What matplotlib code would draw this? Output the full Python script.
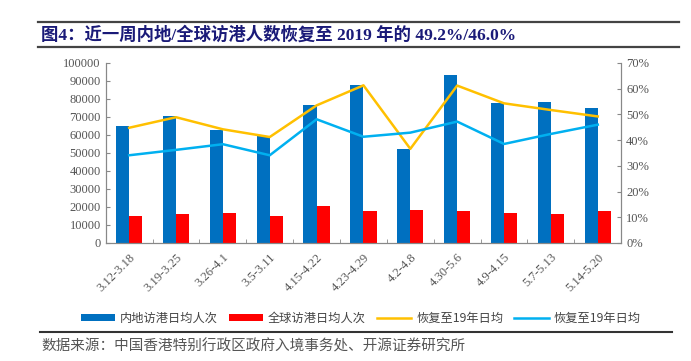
import matplotlib
import numpy as np
import matplotlib.pyplot as plt
from matplotlib.lines import Line2D
from matplotlib.ticker import FuncFormatter

plt.rcParams['font.family'] = ['Liberation Serif', 'Noto Sans CJK SC']

weeks = ['3.12-3.18', '3.19-3.25', '3.26-4.1', '3.5-3.11', '4.15-4.22', '4.23-4.29',
         '4.2-4.8', '4.30-5.6', '4.9-4.15', '5.7-5.13', '5.14-5.20']
mainland = [65000, 70400, 62800, 59300, 76400, 87500, 52400, 93300, 77500, 78400, 74900]
world = [15200, 16000, 16500, 15200, 20800, 18000, 18400, 18000, 16900, 16300, 17700]
rec_mainland = [44.8, 48.9, 44.2, 41.2, 53.5, 61.3, 36.6, 61.2, 54.3, 51.7, 49.2]
rec_world = [34.1, 36.2, 38.4, 34.1, 48.1, 41.3, 42.9, 47.2, 38.5, 42.4, 46.0]

fig = plt.figure(figsize=(6.91, 3.61), dpi=100)
ax1 = fig.add_axes([0.153, 0.327, 0.746, 0.4986])
ax2 = ax1.twinx()

x = np.arange(len(weeks))
w = 0.28
ax1.bar(x - w / 2, mainland, w, color='#0070C0', label='内地访港日均人次')
ax1.bar(x + w / 2, world, w, color='#FF0000', label='全球访港日均人次')
ax2.plot(x, rec_mainland, color='#FFC000', lw=1.8, label='恢复至19年日均')
ax2.plot(x, rec_world, color='#00B0F0', lw=1.8, label='恢复至19年日均')

ax1.set_xlim(-0.5, len(weeks) - 0.5)
ax1.set_ylim(0, 100000)
ax1.set_yticks(np.arange(0, 100001, 10000))
ax2.set_ylim(0, 70)
ax2.set_yticks(np.arange(0, 71, 10))
ax2.yaxis.set_major_formatter(FuncFormatter(lambda v, p: '%d%%' % v))

ax1.set_xticks(x)
ax1.set_xticklabels(weeks, rotation=45, ha='right', rotation_mode='anchor')
ax1.set_xticks(np.arange(-0.5, len(weeks), 1), minor=True)
ax1.tick_params(axis='x', which='major', length=0, pad=6)
ax1.tick_params(axis='x', which='minor', length=3, direction='in', color='#888888')

for a in (ax1, ax2):
    a.spines['top'].set_visible(False)
    for s in ('left', 'right', 'bottom'):
        a.spines[s].set_color('#888888')
    a.tick_params(axis='y', direction='in', length=3, color='#888888',
                  labelsize=9, labelcolor='#555555')
ax1.tick_params(axis='x', labelsize=9, labelcolor='#555555')

h1, l1 = ax1.get_legend_handles_labels()
h2, l2 = ax2.get_legend_handles_labels()
fig.legend(h1 + h2, l1 + l2, loc='center', bbox_to_anchor=(0.522, 0.119), ncol=4,
           frameon=False, handlelength=2.8, handleheight=0.5,
           columnspacing=0.9, handletextpad=0.4,
           prop={'family': ['Noto Sans CJK SC'], 'size': 8.8}, labelcolor='#444444')

# title block
fig.add_artist(Line2D([0.055, 0.982], [0.94, 0.94], color='#444444', lw=1.6))
fig.add_artist(Line2D([0.055, 0.982], [0.869, 0.869], color='#444444', lw=1.6))
fig.text(0.06, 0.903, '图4：近一周内地/全球访港人数恢复至 2019 年的 49.2%/46.0%',
         fontsize=12.5, fontweight='bold', color='#1A1A78', va='center')

fig.add_artist(Line2D([0.058, 0.972], [0.081, 0.081], color='#333333', lw=1.5))
fig.text(0.06, 0.04, '数据来源：中国香港特别行政区政府入境事务处、开源证券研究所',
         fontsize=10.5, color='#555555', va='center', family=['Noto Sans CJK SC'])

plt.savefig('out.png', dpi=100)
